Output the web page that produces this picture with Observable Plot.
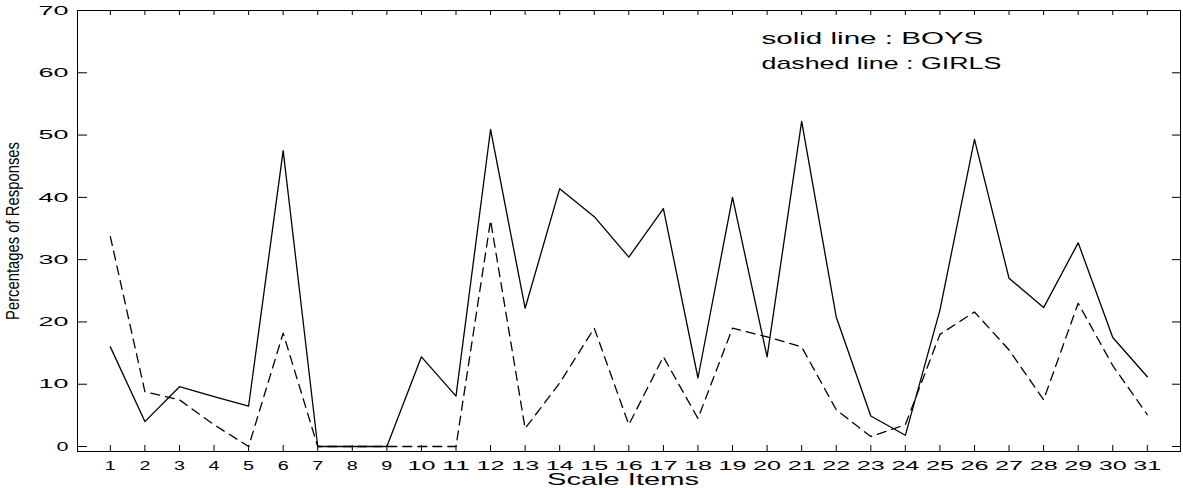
<!DOCTYPE html>
<html>
<head>
<meta charset="utf-8">
<script src="https://cdn.jsdelivr.net/npm/d3@7"></script>
<script src="https://cdn.jsdelivr.net/npm/@observablehq/plot@0.6"></script>
<style>
  html, body { margin: 0; padding: 0; background: #fff; }
</style>
</head>
<body>
<div id="chart"></div>
<script>
// ---- data ----
const items = [1,2,3,4,5,6,7,8,9,10,11,12,13,14,15,16,17,18,19,20,21,22,23,24,25,26,27,28,29,30,31];
const boys  = [16.0, 4.0, 9.6, 8.0, 6.5, 47.5, 0, 0, 0, 14.4, 8.1, 50.9, 22.2, 41.4, 36.9, 30.4, 38.2, 11.0, 40.0, 14.4, 52.2, 20.8, 4.9, 1.8, 21.9, 49.3, 27.0, 22.3, 32.7, 17.5, 11.2];
const girls = [33.7, 8.8, 7.5, 3.5, 0, 18.2, 0, 0, 0, 0, 0, 36.3, 2.9, 10.2, 19.0, 3.5, 14.4, 4.5, 19.0, 17.6, 16.0, 5.9, 1.6, 3.5, 18.0, 21.6, 15.5, 7.5, 23.0, 13.0, 5.1];
const yTicks = [0, 10, 20, 30, 40, 50, 60, 70];
const legendLines = ["solid line : BOYS", "dashed line : GIRLS"];
const xTitle = "Scale Items";
const yTitle = "Percentages of Responses";

const boyRows  = items.map((it, i) => ({item: it, value: boys[i]}));
const girlRows = items.map((it, i) => ({item: it, value: girls[i]}));

const plot = Plot.plot({
  width: 1183,
  height: 488,
  marginLeft: 77,
  marginRight: 3,
  marginTop: 10,
  marginBottom: 37,
  style: {fontFamily: "'Liberation Sans', Arial, sans-serif", fontSize: "13px", color: "#000", background: "#fff"},
  x: {domain: [0.05, 31.96]},
  y: {domain: [-0.8, 70]},
  marks: [
    Plot.frame({stroke: "#000", strokeWidth: 1}),
    // inward ticks on all four sides
    Plot.tickX(items, {x: d => d, insetTop: 435, stroke: "#000"}),
    Plot.tickX(items, {x: d => d, insetBottom: 436, stroke: "#000"}),
    Plot.tickY(yTicks, {y: d => d, insetRight: 1093, stroke: "#000"}),
    Plot.tickY(yTicks, {y: d => d, insetLeft: 1095, stroke: "#000"}),
    Plot.axisX(items, {tickSize: 0, tickPadding: 9, label: null, tickFormat: d => String(d), fontSize: 13}),
    Plot.axisY(yTicks, {tickSize: 0, tickPadding: 9, label: null, tickFormat: d => String(d), fontSize: 13}),
    Plot.line(boyRows, {x: "item", y: "value", stroke: "#000", strokeWidth: 1.3}),
    Plot.line(girlRows, {x: "item", y: "value", stroke: "#000", strokeWidth: 1.3, strokeDasharray: "9,6"}),
    Plot.text([xTitle], {text: d => d, frameAnchor: "bottom", dx: -6, dy: 33, textAnchor: "middle", lineAnchor: "bottom", fontSize: 16}),
    Plot.text([yTitle], {text: d => d, frameAnchor: "left", dx: -59, rotate: -90, textAnchor: "middle", lineAnchor: "bottom", fontSize: 19}),
    Plot.text([legendLines[0]], {text: d => d, frameAnchor: "top-left", dx: 684, dy: 33, textAnchor: "start", lineAnchor: "bottom", fontSize: 16}),
    Plot.text([legendLines[1]], {text: d => d, frameAnchor: "top-left", dx: 684, dy: 58, textAnchor: "start", lineAnchor: "bottom", fontSize: 16})
  ]
});

document.getElementById("chart").appendChild(plot);

// widen / narrow the typeface to match the original print (horizontal scale about each text's anchor)
function targetLength(t) {
  const s = t.textContent;
  if (s === legendLines[0]) return 222;
  if (s === legendLines[1]) return 240;
  if (s === xTitle) return 152;
  if (s === yTitle) return 178;
  const g = t.closest("g[aria-label]");
  const lab = g ? g.getAttribute("aria-label") : "";
  if (/^\d+$/.test(s)) {
    if (/^y-axis/.test(lab)) return s.length === 1 ? 12 : 30;
    return s.length === 1 ? 11 : 28;
  }
  return null;
}
plot.querySelectorAll("text").forEach(t => {
  const L = targetLength(t);
  if (!L) return;
  const natural = t.getComputedTextLength();
  if (!natural) return;
  const sx = L / natural;
  const tr = t.getAttribute("transform") || "";
  t.setAttribute("transform", `${tr} scale(${sx.toFixed(4)},1)`);
});
</script>
</body>
</html>
